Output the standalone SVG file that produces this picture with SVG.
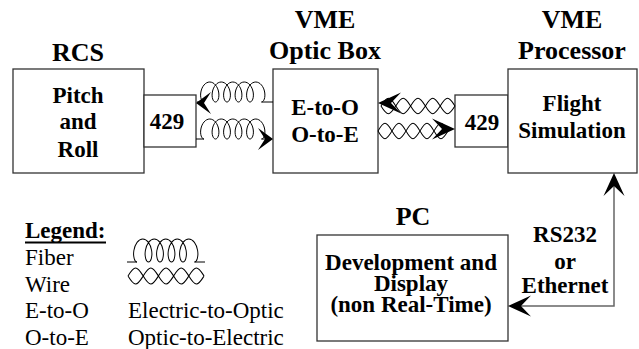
<svg xmlns="http://www.w3.org/2000/svg" xmlns:xlink="http://www.w3.org/1999/xlink" width="639" height="349" viewBox="0 0 639 349">
<style>
text{font-family:"Liberation Serif","Times New Roman",serif;fill:#000}
.t{font-size:26px;font-weight:bold;text-anchor:middle}
.b{font-size:23px;font-weight:bold;text-anchor:middle}
.r{font-size:23px}
.box{fill:#fff;stroke:#333;stroke-width:1.3}
.ln{fill:none;stroke:#000;stroke-width:1}
.cn{fill:none;stroke:#666;stroke-width:1.5}
.ah{fill:#000}
</style>
<defs>
<path id="coil" d="M0,0 c-2.29,0 -4.125,-4.5 -3.125,-10 c1,-5.5 4.565,-10 8.875,-10 c4.31,0 7.875,4.5 8.875,10 c1,5.5 -0.835,10 -3.125,10 c-2.29,0 -4.125,-4.5 -3.125,-10 c1,-5.5 4.565,-10 8.875,-10 c4.31,0 7.875,4.5 8.875,10 c1,5.5 -0.835,10 -3.125,10 c-2.29,0 -4.125,-4.5 -3.125,-10 c1,-5.5 4.565,-10 8.875,-10 c4.31,0 7.875,4.5 8.875,10 c1,5.5 -0.835,10 -3.125,10 c-2.29,0 -4.125,-4.5 -3.125,-10 c1,-5.5 4.565,-10 8.875,-10 c4.31,0 7.875,4.5 8.875,10 c1,5.5 -0.835,10 -3.125,10 c-2.29,0 -4.125,-4.5 -3.125,-10 c1,-5.5 4.565,-10 8.875,-10 c4.31,0 7.875,4.5 8.875,10 c1,5.5 -0.835,10 -3.125,10"/>
<path id="wire" d="M0,0 c2.28,-3.59 4.47,-7 7,-7 c2.53,0 4.72,3.59 7,7 c2.28,3.59 4.47,7 7,7 c2.53,0 4.72,-3.59 7,-7 c2.28,-3.59 4.47,-7 7,-7 c2.53,0 4.72,3.59 7,7 c2.28,3.59 4.47,7 7,7 c2.53,0 4.72,-3.59 7,-7 c2.28,-3.59 4.47,-7 7,-7 c2.53,0 4.72,3.59 7,7 M0,0 c2.28,3.59 4.47,7 7,7 c2.53,0 4.72,-3.59 7,-7 c2.28,-3.59 4.47,-7 7,-7 c2.53,0 4.72,3.59 7,7 c2.28,3.59 4.47,7 7,7 c2.53,0 4.72,-3.59 7,-7 c2.28,-3.59 4.47,-7 7,-7 c2.53,0 4.72,3.59 7,7 c2.28,3.59 4.47,7 7,7 c2.53,0 4.72,-3.59 7,-7"/>
<path id="arrow" d="M0,0 L-23,-10.5 L-13,0 L-23,10.5 Z"/>
<path id="arrow-s" d="M0,0 L-15,-11 L-8,0 L-15,11 Z"/>
</defs>

<g id="rcs">
<text class="t" x="78" y="61">RCS</text>
<rect class="box" x="13" y="69" width="131" height="104"/>
<text class="b" x="78" y="103">Pitch</text>
<text class="b" x="78" y="129">and</text>
<text class="b" x="78" y="157">Roll</text>
</g>
<g id="rcs-429">
<rect class="box" x="144" y="95" width="52" height="52"/>
<text class="b" x="167" y="129">429</text>
</g>
<g id="optic-box">
<text class="t" x="325" y="28">VME</text>
<text class="t" x="325" y="59">Optic Box</text>
<rect class="box" x="273" y="69" width="105" height="104"/>
<text class="b" x="325" y="115">E-to-O</text>
<text class="b" x="325" y="142">O-to-E</text>
</g>
<g id="vme-429">
<rect class="box" x="455" y="95" width="53" height="52"/>
<text class="b" x="482" y="130">429</text>
</g>
<g id="processor">
<text class="t" x="572" y="28">VME</text>
<text class="t" x="572" y="59">Processor</text>
<rect class="box" x="508" y="69" width="129" height="104"/>
<text class="b" x="572" y="111">Flight</text>
<text class="b" x="572" y="138">Simulation</text>
</g>
<g id="pc">
<text class="t" x="413" y="225">PC</text>
<rect class="box" x="317" y="235" width="191" height="106"/>
<text class="b" x="411" y="270">Development and</text>
<text class="b" x="411" y="291">Display</text>
<text class="b" x="411" y="312">(non Real-Time)</text>
</g>

<g id="connectors">
<use xlink:href="#coil" href="#coil" class="ln" transform="translate(204,102)"/>
<line class="ln" x1="197" y1="102" x2="204" y2="102"/>
<line class="ln" x1="261.5" y1="102" x2="273" y2="102"/>
<use xlink:href="#arrow-s" href="#arrow-s" class="ah" transform="translate(196,103) rotate(180)"/>
<use xlink:href="#coil" href="#coil" class="ln" transform="translate(204,139)"/>
<line class="ln" x1="196" y1="139" x2="204" y2="139"/>
<line class="ln" x1="261.5" y1="139" x2="271" y2="139"/>
<use xlink:href="#arrow-s" href="#arrow-s" class="ah" transform="translate(273,139)"/>
<use xlink:href="#wire" href="#wire" class="ln" transform="translate(381,106) scale(1.057,1.1)"/>
<use xlink:href="#arrow" href="#arrow" class="ah" transform="translate(378,103) rotate(180)"/>
<use xlink:href="#wire" href="#wire" class="ln" transform="translate(378,131) scale(1,1.1)"/>
<use xlink:href="#arrow" href="#arrow" class="ah" transform="translate(455,129)"/>
<polyline class="cn" points="614,178 614,306 512,306"/>
<use xlink:href="#arrow" href="#arrow" class="ah" transform="translate(614,173) rotate(-90)"/>
<use xlink:href="#arrow" href="#arrow" class="ah" transform="translate(508,306) rotate(180)"/>
<text class="b" x="565" y="242">RS232</text>
<text class="b" x="565" y="269">or</text>
<text class="b" x="565" y="293">Ethernet</text>
</g>

<g id="legend">
<text class="r" x="25" y="238" font-weight="bold">Legend:</text>
<line x1="25" y1="242.5" x2="106" y2="242.5" stroke="#000" stroke-width="2"/>
<text class="r" x="25" y="265">Fiber</text>
<text class="r" x="25" y="292">Wire</text>
<text class="r" x="25" y="318">E-to-O</text>
<text class="r" x="25" y="345">O-to-E</text>
<text class="r" x="128" y="318">Electric-to-Optic</text>
<text class="r" x="128" y="345">Optic-to-Electric</text>
<use xlink:href="#coil" href="#coil" class="ln" transform="translate(137,262) scale(1,1.15)"/>
<line class="ln" x1="127" y1="262" x2="137" y2="262"/>
<line class="ln" x1="194.5" y1="262" x2="205" y2="262"/>
<use xlink:href="#wire" href="#wire" class="ln" transform="translate(128,276) scale(1.086,1.14)"/>
</g>
</svg>
